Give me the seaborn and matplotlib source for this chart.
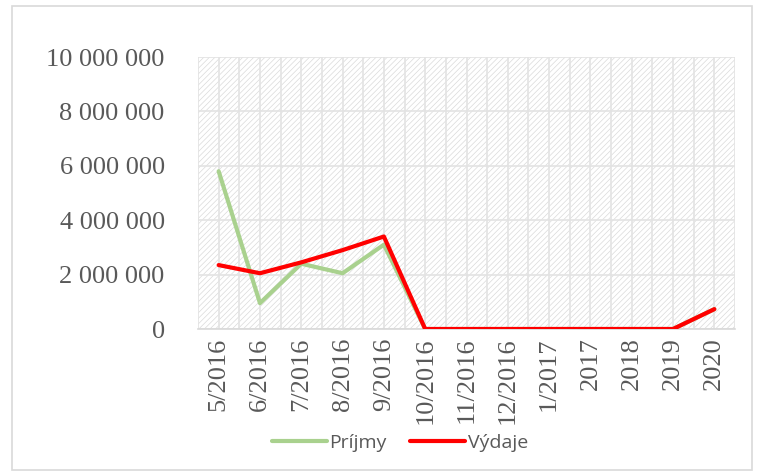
import matplotlib
matplotlib.use("Agg")
import matplotlib.pyplot as plt
import matplotlib.ticker as mticker
import seaborn as sns
import pandas as pd
import numpy as np

categories = ["5/2016", "6/2016", "7/2016", "8/2016", "9/2016", "10/2016", "11/2016",
              "12/2016", "1/2017", "2017", "2018", "2019", "2020"]
prijmy = [5800000, 950000, 2400000, 2050000, 3100000, 0, 0, 0, 0, 0, 0, 0, 730000]
vydaje = [2350000, 2050000, 2450000, 2900000, 3400000, 0, 0, 0, 0, 0, 0, 0, 730000]
series_names = ["Príjmy", "Výdaje"]
colors = ["#A9D18E", "#FF0000"]
y_ticks = [0, 2000000, 4000000, 6000000, 8000000, 10000000]

df = pd.DataFrame({
    "x": list(range(len(categories))) * 2,
    "value": prijmy + vydaje,
    "series": [series_names[0]] * len(categories) + [series_names[1]] * len(categories),
})

sns.set_theme(style="white")
plt.rcParams["font.family"] = ["Liberation Serif", "DejaVu Serif"]

fig = plt.figure(figsize=(7.6, 4.73), dpi=100)
ax = fig.add_axes([198 / 760, 1 - 329 / 473, (735 - 198) / 760, (329 - 57) / 473])

# outer chart border
fig.patches.append(plt.Rectangle((12 / 760, 3 / 473), (752 - 12) / 760, (467 - 3) / 473,
                                 transform=fig.transFigure, fill=False,
                                 edgecolor="#D9D9D9", linewidth=1.2, zorder=0))

# hatched plot background
ax.set_facecolor("white")
plt.rcParams["hatch.color"] = "#DADADA"
plt.rcParams["hatch.linewidth"] = 0.5
ax.add_patch(plt.Rectangle((0, 0), 1, 1, transform=ax.transAxes, facecolor="white",
                           edgecolor="#DADADA", hatch="//////", linewidth=0, zorder=0))

sns.lineplot(data=df, x="x", y="value", hue="series", palette=colors, ax=ax,
             linewidth=3, legend=True, zorder=3)

ax.set_xlim(-0.5, len(categories) - 0.5)
ax.set_ylim(0, 10000000)
ax.set_xticks(range(len(categories)))
ax.set_xticks(np.arange(-0.5, len(categories), 1.0), minor=True)
ax.set_xticklabels(categories, rotation=90, fontsize=19, color="#595959")
ax.set_yticks(y_ticks)
ax.yaxis.set_major_formatter(mticker.FuncFormatter(lambda v, p: f"{int(v):,}".replace(",", " ")))
ax.tick_params(axis="y", labelsize=19, colors="#595959", length=0, pad=24)
ax.tick_params(axis="x", which="both", length=0, pad=6)
ax.grid(True, which="major", axis="both", color="#E3E3E3", linewidth=1.2, zorder=1)
ax.grid(True, which="minor", axis="x", color="#E3E3E3", linewidth=1.2, zorder=1)
ax.set_axisbelow(True)
for s in ["top", "right", "left"]:
    ax.spines[s].set_visible(False)
ax.spines["bottom"].set_color("#D9D9D9")
ax.spines["bottom"].set_linewidth(1.2)
ax.set_xlabel("")
ax.set_ylabel("")

handles, labels = ax.get_legend_handles_labels()
leg = ax.legend(handles, labels, loc="center", bbox_to_anchor=(400 / 760, 1 - 443 / 473),
                bbox_transform=fig.transFigure, ncol=2, frameon=False,
                prop={"family": ["Open Sans", "DejaVu Sans"], "size": 14},
                handlelength=2.8, handletextpad=0.15, columnspacing=1.2)
for t in leg.get_texts():
    t.set_color("#595959")

fig.savefig("out.png", dpi=100)
